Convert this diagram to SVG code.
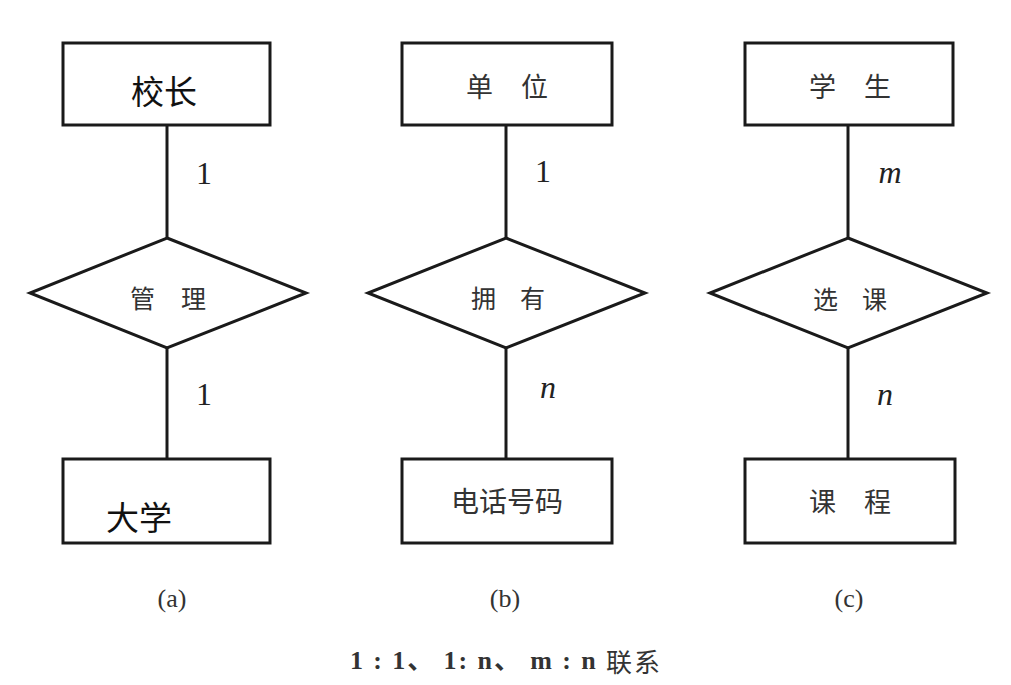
<svg xmlns="http://www.w3.org/2000/svg" width="1011" height="685" viewBox="0 0 1011 685">
<style>
.box{fill:#fff;stroke:#1a1a1a;stroke-width:3}
.dia{fill:#fff;stroke:#1a1a1a;stroke-width:3}
.ln{stroke:#1a1a1a;stroke-width:3;fill:none}
.cn{font-family:"Noto Sans CJK SC","Noto Sans",sans-serif;fill:#333;text-anchor:middle;dominant-baseline:central}
.lbl{font-family:"Liberation Serif",serif;fill:#222;font-size:32px;text-anchor:middle;dominant-baseline:central}
.cap{font-family:"Liberation Serif",serif;fill:#333;font-size:26px;text-anchor:middle;dominant-baseline:central}
</style>
<rect width="1011" height="685" fill="#fff"/>
<g id="connectors">
<line class="ln" x1="167" y1="125" x2="167" y2="238"/>
<line class="ln" x1="167" y1="348" x2="167" y2="459"/>
<line class="ln" x1="506" y1="125" x2="506" y2="238"/>
<line class="ln" x1="506" y1="348" x2="506" y2="459"/>
<line class="ln" x1="848" y1="125" x2="848" y2="238"/>
<line class="ln" x1="848" y1="348" x2="848" y2="459"/>
<text class="lbl" x="204" y="173">1</text>
<text class="lbl" x="204" y="394">1</text>
<text class="lbl" x="543" y="171">1</text>
<text class="lbl" x="548" y="387" font-style="italic">n</text>
<text class="lbl" x="890" y="172" font-style="italic">m</text>
<text class="lbl" x="885" y="394" font-style="italic">n</text>
</g>
<g id="a-principal"><rect class="box" x="63" y="43" width="207" height="82"/><text class="cn" x="164" y="90" font-size="33" style="fill:#111">校长</text></g>
<g id="a-manage"><polygon class="dia" points="167,238 306,293 167,348 30,293"/><text class="cn" x="181" y="297" font-size="25" letter-spacing="26">管理</text></g>
<g id="a-univ"><rect class="box" x="63" y="459" width="207" height="84"/><text class="cn" x="139" y="516" font-size="33" style="fill:#111">大学</text></g>
<g id="b-unit"><rect class="box" x="402" y="43" width="210" height="82"/><text class="cn" x="521" y="85" font-size="27" letter-spacing="28">单位</text></g>
<g id="b-own"><polygon class="dia" points="506,238 645,293 506,348 368,293"/><text class="cn" x="520" y="297" font-size="25" letter-spacing="24">拥有</text></g>
<g id="b-phone"><rect class="box" x="402" y="459" width="210" height="84"/><text class="cn" x="507" y="500" font-size="28">电话号码</text></g>
<g id="c-student"><rect class="box" x="745" y="43" width="208" height="82"/><text class="cn" x="864" y="85" font-size="27" letter-spacing="28">学生</text></g>
<g id="c-select"><polygon class="dia" points="848,238 987,293 848,348 710,293"/><text class="cn" x="862" y="298" font-size="25" letter-spacing="24">选课</text></g>
<g id="c-course"><rect class="box" x="745" y="459" width="210" height="84"/><text class="cn" x="864" y="500" font-size="27" letter-spacing="28">课程</text></g>
<g id="captions">
<text class="cap" x="172" y="598">(a)</text>
<text class="cap" x="505" y="598">(b)</text>
<text class="cap" x="849" y="598">(c)</text>
<text x="350" y="660" textLength="310" lengthAdjust="spacing" font-family="Liberation Serif,Noto Sans CJK SC,serif" font-size="26" font-weight="bold" fill="#333" dominant-baseline="central">1 : 1、 1: n、 m : n <tspan font-family="Noto Sans CJK SC,sans-serif" font-weight="normal">联系</tspan></text>
</g>
</svg>
